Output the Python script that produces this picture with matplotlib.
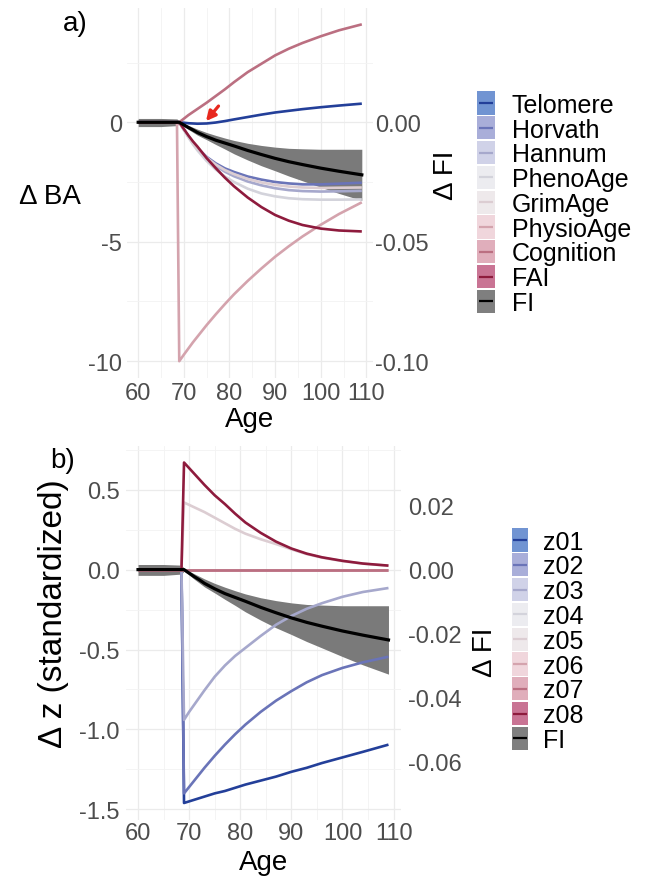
import matplotlib
matplotlib.use('Agg')
import matplotlib.pyplot as plt
from matplotlib.patches import Rectangle
from matplotlib.ticker import MultipleLocator, FormatStrFormatter

plt.rcParams['font.family'] = ['Liberation Sans', 'DejaVu Sans']
plt.rcParams['axes.unicode_minus'] = False

W, H = 646, 879

# ages shared by both panels (intervention at 69)
ages = [60, 65, 68.5, 69, 70, 71, 72, 73, 75, 77, 79, 81, 84, 87, 90, 93, 96, 100, 104, 109]

# panel a: change in biological age
telomere = [0, 0, 0, 0, -0.02, -0.04, -0.05, -0.06, -0.05, -0.01, 0.05, 0.12, 0.22, 0.32, 0.41, 0.48, 0.55, 0.63, 0.7, 0.78]
horvath = [0, 0, 0, 0, -0.3, -0.58, -0.85, -1.08, -1.45, -1.72, -1.93, -2.08, -2.27, -2.4, -2.5, -2.56, -2.6, -2.6, -2.57, -2.53]
hannum = [0, 0, 0, 0, -0.3, -0.6, -0.88, -1.12, -1.52, -1.83, -2.07, -2.26, -2.48, -2.64, -2.76, -2.84, -2.88, -2.9, -2.89, -2.87]
phenoage = [0, 0, 0, 0, -0.32, -0.63, -0.92, -1.18, -1.62, -1.98, -2.27, -2.5, -2.78, -2.98, -3.1, -3.18, -3.22, -3.24, -3.24, -3.23]
grimage = [0, 0, 0, 0, -0.3, -0.59, -0.86, -1.1, -1.48, -1.77, -2.0, -2.17, -2.37, -2.52, -2.62, -2.69, -2.73, -2.75, -2.74, -2.73]
physioage = [0, 0, 0, -10, -9.73, -9.47, -9.21, -8.97, -8.49, -8.04, -7.61, -7.2, -6.64, -6.12, -5.63, -5.19, -4.78, -4.29, -3.84, -3.35]
cognition = [0, 0, 0, 0, 0.15, 0.3, 0.43, 0.56, 0.82, 1.1, 1.38, 1.68, 2.1, 2.45, 2.8, 3.08, 3.32, 3.6, 3.85, 4.1]
fai = [0, 0, 0, 0, -0.28, -0.55, -0.8, -1.02, -1.5, -1.92, -2.32, -2.68, -3.15, -3.55, -3.88, -4.12, -4.3, -4.45, -4.53, -4.57]

# frailty index (same in both panels), mean and band
fi_mean = [0, 0, 0, 0, -0.0011, -0.0022, -0.0032, -0.0043, -0.006, -0.0075, -0.0087, -0.0099, -0.0118, -0.0135, -0.0151, -0.0165, -0.0177, -0.0192, -0.0205, -0.022]
fi_upper = [0.0016, 0.0016, 0.0014, 0.0005, -0.0005, -0.0013, -0.0021, -0.0029, -0.0043, -0.0055, -0.0066, -0.0076, -0.0088, -0.0097, -0.0104, -0.0109, -0.0111, -0.0113, -0.0113, -0.0113]
fi_lower = [-0.0018, -0.0018, -0.0014, -0.0005, -0.0017, -0.003, -0.0042, -0.0054, -0.0073, -0.0093, -0.0112, -0.0132, -0.0158, -0.0182, -0.0203, -0.0225, -0.0245, -0.0272, -0.0298, -0.0327]

# panel b: standardized z changes
z01 = [0, 0, 0, -1.46, -1.45, -1.44, -1.43, -1.42, -1.4, -1.385, -1.365, -1.345, -1.32, -1.295, -1.265, -1.24, -1.21, -1.175, -1.14, -1.095]
z02 = [0, 0, 0, -1.4, -1.36, -1.32, -1.28, -1.24, -1.165, -1.095, -1.03, -0.97, -0.89, -0.82, -0.76, -0.705, -0.66, -0.615, -0.58, -0.545]
z03 = [0, 0, 0, -0.94, -0.89, -0.845, -0.8, -0.755, -0.67, -0.6, -0.54, -0.49, -0.415, -0.345, -0.29, -0.245, -0.21, -0.17, -0.14, -0.115]
z04 = [0, 0, 0, 0, 0, 0, 0, 0, 0, 0, 0, 0, 0, 0, 0, 0, 0, 0, 0, 0]
z05 = [0, 0, 0, 0.42, 0.405, 0.39, 0.375, 0.36, 0.325, 0.29, 0.255, 0.225, 0.19, 0.16, 0.127, 0.097, 0.075, 0.053, 0.037, 0.024]
z06 = [0, 0, 0, 0, 0, 0, 0, 0, 0, 0, 0, 0, 0, 0, 0, 0, 0, 0, 0, 0]
z07 = [0, 0, 0, 0, 0, 0, 0, 0, 0, 0, 0, 0, 0, 0, 0, 0, 0, 0, 0, 0]
z08 = [0, 0, 0, 0.67, 0.635, 0.6, 0.565, 0.53, 0.465, 0.41, 0.35, 0.295, 0.23, 0.175, 0.132, 0.1, 0.077, 0.055, 0.038, 0.025]

labels_a = ['Telomere', 'Horvath', 'Hannum', 'PhenoAge', 'GrimAge', 'PhysioAge', 'Cognition', 'FAI', 'FI']
labels_b = ['z01', 'z02', 'z03', 'z04', 'z05', 'z06', 'z07', 'z08', 'FI']

line_colors = ['#233f99', '#6a74b8', '#a6a8cc', '#d3d3db', '#dccdd2', '#d4a3ad', '#bb6f81', '#8e1b3d', '#000000']
fill_colors = ['#7194d2', '#a9aed9', '#d0d2e8', '#ececf0', '#eee9eb', '#f0d6dc', '#e0aebb', '#c97494', '#7f7f7f']

TICK = '#4d4d4d'


def panel(rect_px, series, scale, left_fmt, left_step, right_ticks, pads, xpad):
    l, t, w, h = rect_px
    ax = fig.add_axes([l / W, 1 - (t + h) / H, w / W, h / H])
    mean = [v * scale for v in fi_mean]
    up = [v * scale for v in fi_upper]
    lo = [v * scale for v in fi_lower]
    ax.fill_between(ages, lo, up, color='#7a7a7a', lw=0, zorder=1)
    for s, c in zip(series, line_colors):
        ax.plot(ages, s, color=c, lw=1.9, zorder=2, solid_capstyle='butt')
    ax.plot(ages, mean, color='black', lw=2.3, zorder=3)

    # ggplot-like 5% expansion
    vals = [v for s in series for v in s] + lo + up
    lo_y, hi_y = min(vals), max(vals)
    ex = (hi_y - lo_y) * 0.05
    ax.set_ylim(lo_y - ex, hi_y + ex)
    ex = (ages[-1] - ages[0]) * 0.05
    ax.set_xlim(ages[0] - ex, ages[-1] + ex)

    ax.xaxis.set_major_locator(MultipleLocator(10))
    ax.xaxis.set_minor_locator(MultipleLocator(5))
    ax.yaxis.set_major_locator(MultipleLocator(left_step))
    ax.yaxis.set_minor_locator(MultipleLocator(left_step / 2))
    ax.yaxis.set_major_formatter(FormatStrFormatter(left_fmt))
    ax.grid(True, which='major', color='#ebebeb', lw=0.9, zorder=0)
    ax.grid(True, which='minor', color='#f3f3f3', lw=0.6, zorder=0)
    ax.set_axisbelow(True)
    for sp in ax.spines.values():
        sp.set_visible(False)
    ax.tick_params(which='both', length=0, labelsize=17, colors=TICK)
    ax.tick_params(axis='x', pad=pads[0])
    ax.tick_params(axis='y', pad=pads[1])

    sec = ax.secondary_yaxis('right', functions=(lambda v: v / scale, lambda v: v * scale))
    sec.set_yticks(right_ticks)
    sec.yaxis.set_major_formatter(FormatStrFormatter('%.2f'))
    sec.tick_params(length=0, labelsize=17, colors=TICK, pad=pads[2])
    for sp in sec.spines.values():
        sp.set_visible(False)
    ax.set_xlabel('Age', fontsize=20, labelpad=xpad)
    return ax


def key(rect_px, labels, box_w, text_dx):
    l, t, w, h = rect_px
    lax = fig.add_axes([l / W, 1 - (t + h) / H, w / W, h / H])
    lax.set_xlim(0, w)
    lax.set_ylim(h, 0)
    lax.axis('off')
    row = h / len(labels)
    for i, (lab, fc, lc) in enumerate(zip(labels, fill_colors, line_colors)):
        y0 = i * row
        lax.add_patch(Rectangle((0, y0 + 0.8), box_w, row - 1.6, facecolor=fc, edgecolor='none'))
        lax.plot([1.5, box_w - 1.5], [y0 + row / 2] * 2, color=lc, lw=1.6, solid_capstyle='butt')
        lax.text(text_dx, y0 + row / 2 + 8.8, lab, fontsize=18, va='baseline', color='black')


fig = plt.figure(figsize=(W / 100, H / 100), dpi=100)

series_a = [telomere, horvath, hannum, phenoage, grimage, physioage, cognition, fai]
ax_a = panel((127, 8.5, 246, 370.5), series_a, 100, '%g', 5, [0, -0.05, -0.10], (3.2, 3.6, 1.5), 1)
ax_a.set_ylabel('Δ BA', rotation=0, fontsize=20, ha='center', va='center')
ax_a.yaxis.set_label_coords(-0.315, 0.49)
ax_a.annotate('', xy=(74.85, 0.05), xytext=(77.6, 0.68),
              arrowprops=dict(arrowstyle='-|>', color='#e8281e', lw=2.3, mutation_scale=14, shrinkA=0, shrinkB=0),
              zorder=5)

series_b = [z01, z02, z03, z04, z05, z06, z07, z08]
ax_b = panel((125.5, 446.5, 275.5, 374.5), series_b, 20, '%.1f', 0.5, [0.02, 0.0, -0.02, -0.04, -0.06], (1.7, 4.0, 5.0), 3)
ax_b.set_ylabel('Δ z (standardized)', fontsize=24, ha='center', va='center')
ax_b.yaxis.set_label_coords(-0.26, 0.555)

# right-hand axis titles
fig.text(446 / W, 1 - 175 / H, 'Δ FI', fontsize=20, rotation=90, ha='center', va='center')
fig.text(485 / W, 1 - 652 / H, 'Δ FI', fontsize=20, rotation=90, ha='center', va='center')

key((477, 91.5, 169, 223.2), labels_a, 17.5, 35)
key((511.5, 528.5, 134.5, 223.2), labels_b, 16.5, 31.5)

fig.text(75 / W, 1 - 24 / H, 'a)', fontsize=20, ha='center', va='center')
fig.text(63 / W, 1 - 461 / H, 'b)', fontsize=20, ha='center', va='center')

fig.savefig('out.png', dpi=100)
